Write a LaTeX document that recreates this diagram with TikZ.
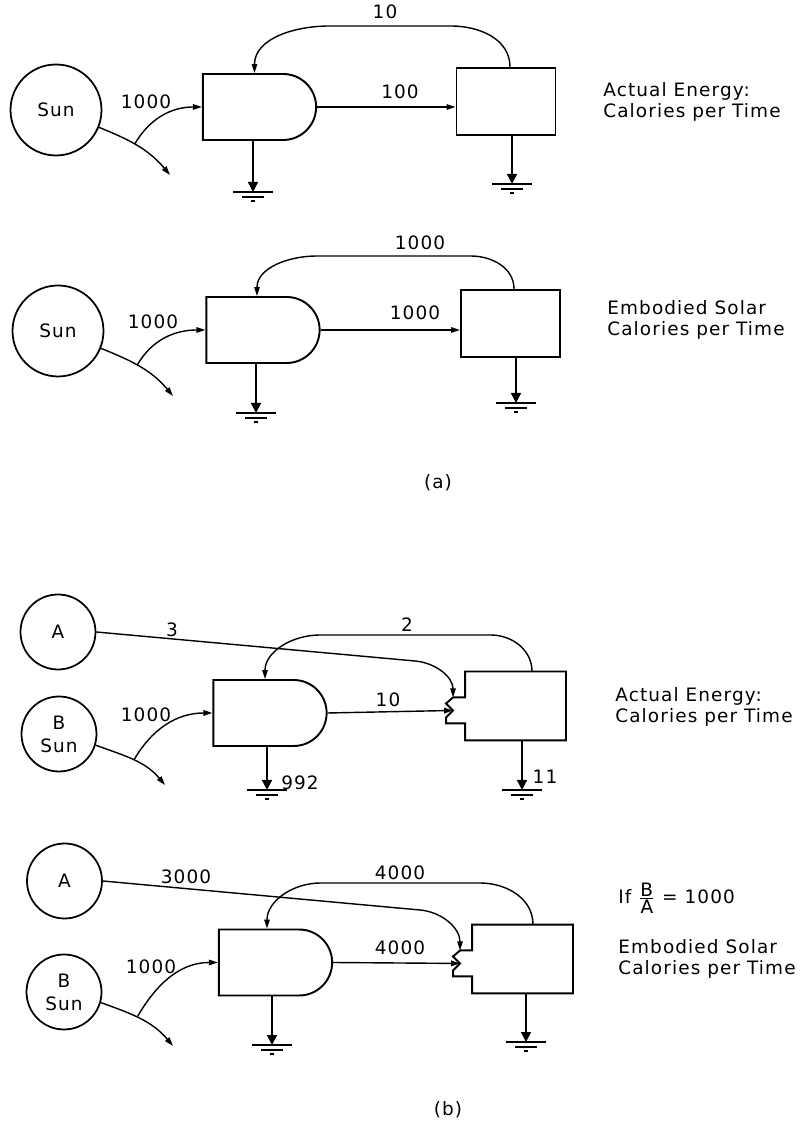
\documentclass[tikz,border=0pt]{standalone}
\usepackage{fontspec}
\setmainfont{DejaVu Sans}[LetterSpace=6]
\usepackage{tikz}
\usetikzlibrary{arrows.meta,shapes.misc,positioning}

\begin{document}
\begin{tikzpicture}[
    x=0.02cm, y=0.02cm,
    every node/.style={font=\fontsize{10.5}{12}\selectfont},
    sun/.style={draw, circle, line width=1pt, minimum size=1.82cm, inner sep=0pt, align=center},
    src/.style={draw, circle, line width=1pt, minimum size=1.5cm, inner sep=0pt, align=center},
    prod/.style={draw, rounded rectangle, rounded rectangle left arc=none, line width=1.1pt, minimum width=2.5cm, minimum height=1.32cm},
    cons/.style={draw, line width=1.1pt, minimum width=1.98cm, minimum height=1.34cm},
    arrow/.style={-{Triangle[length=1.8mm,width=1.1mm]}, line width=0.8pt},
    sink/.style={-{Triangle[length=2mm,width=2mm]}, line width=0.8pt},
    lbl/.style={inner sep=1pt},
    txt/.style={anchor=west, align=left, inner sep=0pt},
    ground/.pic={\draw[line width=0.8pt] (-20,0) -- (20,0) (-11,-5) -- (11,-5) (-2,-9) -- (2,-9);}
]
\useasboundingbox (0,0) rectangle (808,1121);

\node[sun] (s1) at (56,1011) {Sun};
\node[prod] (p1) at (259.5,1014) {};
\node[cons] (c1) at (506,1019.5) {};
\coordinate (k1) at (170,946);
\coordinate (g1) at (253,929);
\coordinate (h1) at (512,937);
\coordinate (t1) at (0,1095);
\draw[arrow] (s1.-22) to[out=-22,in=130] coordinate[pos=0.45] (j1) (k1);
\draw[arrow] (j1) to[out=60,in=180] (p1.west);
\draw[arrow] (p1.east) -- (p1.east -| c1.west);
\draw[arrow] ([xshift=0.08cm]c1.north) to[out=90,in=0] ([xshift=-1.1cm]c1.north |- t1) -- ([xshift=1.4cm]p1.north |- t1) to[out=180,in=90] ([xshift=-0.1cm]p1.north);
\draw[sink] (g1 |- p1.south) -- (g1);
\draw[sink] (h1 |- c1.south) -- (h1);
\pic at (g1) {ground};
\pic at (h1) {ground};
\node[lbl] (n1a) at (146,1019) {1000};
\node[lbl] (n1b) at (400,1029) {100};
\node[lbl] (n1c) at (385,1109) {10};
\node[txt] (d1) at (603,1019) {Actual Energy:\\Calories per Time};

\node[sun] (s2) at (58,790) {Sun};
\node[prod] (p2) at (263,791) {};
\node[cons] (c2) at (510.5,797.5) {};
\coordinate (k2) at (173,725);
\coordinate (g2) at (256,708);
\coordinate (h2) at (516,718);
\coordinate (t2) at (0,865);
\draw[arrow] (s2.-22) to[out=-22,in=130] coordinate[pos=0.45] (j2) (k2);
\draw[arrow] (j2) to[out=60,in=180] (p2.west);
\draw[arrow] (p2.east) -- (p2.east -| c2.west);
\draw[arrow] ([xshift=0.07cm]c2.north) to[out=90,in=0] ([xshift=-0.8cm]c2.north |- t2) -- ([xshift=1.08cm]p2.north |- t2) to[out=180,in=90] ([xshift=-0.12cm]p2.north);
\draw[sink] (g2 |- p2.south) -- (g2);
\draw[sink] (h2 |- c2.south) -- (h2);
\pic at (g2) {ground};
\pic at (h2) {ground};
\node[lbl] (n2a) at (153,799) {1000};
\node[lbl] (n2b) at (415,808) {1000};
\node[lbl] (n2c) at (420,878) {1000};
\node[txt] (d2) at (607,801.5) {Embodied Solar\\Calories per Time};
\node[lbl] (cap1) at (438,638) {(a)};

\node[src] (a3) at (58,489) {A};
\node[src] (b3) at (59,387) {B\\[1pt]Sun};
\node[prod] (p3) at (270,408) {};
\node[cons, draw=none] (c3) at (515.5,415) {};
\coordinate (v3) at (415,460);
\coordinate (k3) at (165,336);
\coordinate (g3) at (267,331);
\coordinate (h3) at (522,331);
\coordinate (t3) at (0,486);
\draw[line width=1.1pt] (c3.south west) -- ++(0,17) -- ++(-19,0) -- ++(0,6) -- ++(7,7) coordinate (m3) -- ++(-7,7) -- ++(7,6) coordinate (e3) -- (e3 -| c3.west) -- (c3.north west) -- (c3.north east) -- (c3.south east) -- cycle;
\draw[arrow] (a3.east) -- (v3) to[out=-5,in=90] (e3);
\draw[arrow] (p3.east) -- (m3);
\draw[arrow] (b3.-17) to[out=-20,in=130] coordinate[pos=0.5] (j3) (k3);
\draw[arrow] (j3) to[out=60,in=180] (p3.west);
\draw[arrow] ([xshift=0.33cm]c3.north) to[out=90,in=0] ([xshift=-0.5cm]c3.north |- t3) -- ([xshift=1.0cm]p3.north |- t3) to[out=180,in=90] ([xshift=-0.1cm]p3.north);
\draw[sink] (g3 |- p3.south) -- (g3);
\draw[sink] (h3 |- c3.south) -- (h3);
\pic at (g3) {ground};
\pic at (h3) {ground};
\node[lbl] (n3a) at (172,491) {3};
\node[lbl] (n3b) at (407,496) {2};
\node[lbl] (n3c) at (388,421) {10};
\node[lbl] (n3d) at (146,406) {1000};
\node[lbl] (n3e) at (300,338) {992};
\node[lbl] (n3f) at (545,344) {11};
\node[txt] (d3) at (615,414) {Actual Energy:\\Calories per Time};

\node[src] (a4) at (64.5,240) {A};
\node[src] (b4) at (64,129) {B\\[1pt]Sun};
\node[prod] (p4) at (275.5,158.5) {};
\node[cons, draw=none] (c4) at (522.5,162) {};
\coordinate (v4) at (420,211);
\coordinate (k4) at (173,75);
\coordinate (g4) at (272,76);
\coordinate (h4) at (526,79);
\coordinate (t4) at (0,238);
\draw[line width=1.1pt] (c4.south west) -- ++(0,17) -- ++(-19,0) -- ++(0,6) -- ++(7,7) coordinate (m4) -- ++(-7,7) -- ++(7,6) coordinate (e4) -- (e4 -| c4.west) -- (c4.north west) -- (c4.north east) -- (c4.south east) -- cycle;
\draw[arrow] (a4.east) -- (v4) to[out=-5,in=90] (e4);
\draw[arrow] (p4.east) -- (m4);
\draw[arrow] (b4.-16) to[out=-20,in=130] coordinate[pos=0.45] (j4) (k4);
\draw[arrow] (j4) to[out=60,in=180] (p4.west);
\draw[arrow] ([xshift=0.21cm]c4.north) to[out=90,in=0] ([xshift=-0.85cm]c4.north |- t4) -- ([xshift=0.9cm]p4.north |- t4) to[out=180,in=90] ([xshift=-0.17cm]p4.north);
\draw[sink] (g4 |- p4.south) -- (g4);
\draw[sink] (h4 |- c4.south) -- (h4);
\pic at (g4) {ground};
\pic at (h4) {ground};
\node[lbl] (n4a) at (186,244) {3000};
\node[lbl] (n4b) at (400,248) {4000};
\node[lbl] (n4c) at (151,154) {1000};
\node[lbl] (n4d) at (400,173) {4000};
\node[txt] (r4) at (618,223) {If $\frac{\mbox{B}}{\mbox{A}}$ = 1000};
\node[txt] (d4) at (618,162.5) {Embodied Solar\\Calories per Time};
\node[lbl] (cap2) at (448,11) {(b)};
\end{tikzpicture}
\end{document}
